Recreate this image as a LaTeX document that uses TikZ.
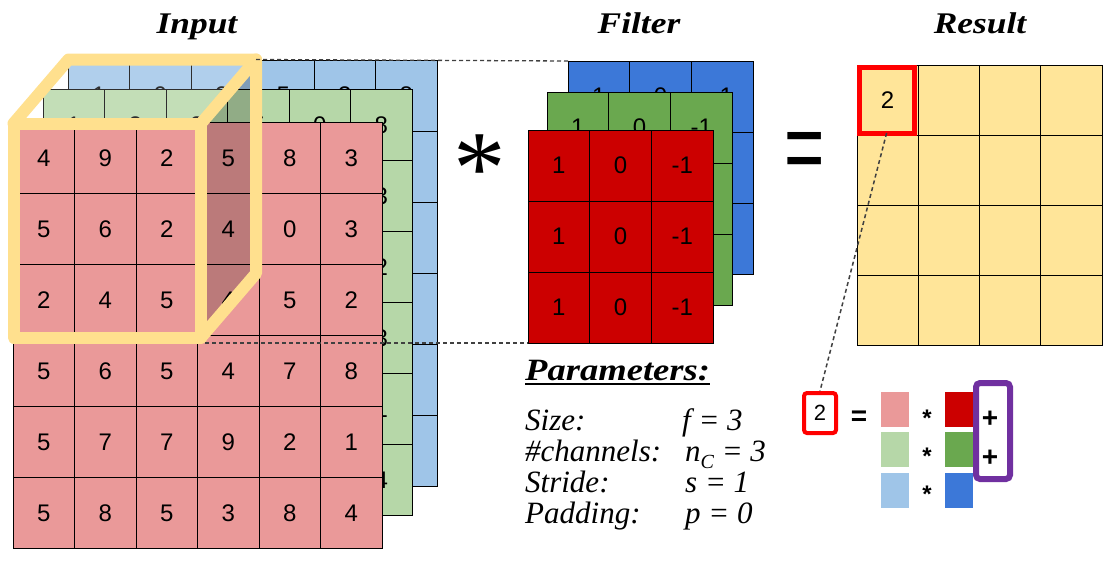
\documentclass[tikz,border=0pt]{standalone}
\usepackage{fontspec}
\usepackage{graphicx}
\setmainfont{Liberation Serif}
\newfontfamily\numfont{Liberation Sans}
\newfontfamily\titlefont{Liberation Serif}[FakeStretch=1.18]
\usetikzlibrary{calc}
\definecolor{inred}{HTML}{EA9999}
\definecolor{ingreen}{HTML}{B6D7A8}
\definecolor{inblue}{HTML}{9FC5E8}
\definecolor{fred}{HTML}{CC0000}
\definecolor{fgreen}{HTML}{6AA84F}
\definecolor{fblue}{HTML}{3C78D8}
\definecolor{resyel}{HTML}{FFE599}
\definecolor{cubey}{HTML}{FFE08E}
\definecolor{purp}{HTML}{7030A0}
\definecolor{boxred}{HTML}{FF0000}
\begin{document}
\begin{tikzpicture}[x=1pt,y=-1pt]
\tikzset{
  gcell/.style={draw=black, line width=1pt, inner sep=0pt, outer sep=0pt, anchor=north west,
    font=\numfont\fontsize{24}{24}\selectfont},
  incell/.style={gcell, minimum width=61.5pt, minimum height=71pt},
  fcell/.style={gcell, minimum width=61.7pt, minimum height=71pt},
  rcell/.style={gcell, minimum width=61.25pt, minimum height=70pt, fill=resyel},
  titletxt/.style={anchor=base, font=\titlefont\bfseries\itshape\fontsize{30}{30}\selectfont},
  paramtxt/.style={anchor=base west, font=\itshape\fontsize{31}{31}\selectfont},
  dashline/.style={draw=black!75, line width=1.3pt, dash pattern=on 4pt off 3pt},
  cubeline/.style={draw=cubey, line width=12pt, line join=round, line cap=round},
  swatch/.style={inner sep=0pt, minimum width=28pt, minimum height=35pt},
  smallop/.style={anchor=base, font=\numfont\bfseries\fontsize{24}{24}\selectfont},
}
\useasboundingbox (0,0) rectangle (1112,565);
\fill[white] (0,0) rectangle (1112,565);

% titles
\node[titletxt] (tin) at (197,33) {Input};
\node[titletxt] (tfi) at (639,33) {Filter};
\node[titletxt] (tre) at (980,33) {Result};

% input: blue layer
\foreach \row [count=\j from 0] in {{1,0,2,5,3,8},{5,6,2,4,0,3},{2,4,5,4,5,2},{5,6,5,4,7,8},{5,7,7,9,2,1},{5,8,5,3,8,4}}{
  \foreach \v [count=\i from 0] in \row {
    \node[incell, fill=inblue] (ib-\j-\i) at (68+\i*61.5, 60+\j*71) {\v};
  }}
% input: green layer
\foreach \row [count=\j from 0] in {{1,2,2,5,0,8},{5,6,2,4,0,3},{2,4,5,4,5,2},{5,6,5,4,7,3},{5,7,7,9,2,1},{5,8,5,3,8,4}}{
  \foreach \v [count=\i from 0] in \row {
    \node[incell, fill=ingreen] (ig-\j-\i) at (43+\i*61.5, 89.5+\j*71) {\v};
  }}
% input: red layer
\foreach \row [count=\j from 0] in {{4,9,2,5,8,3},{5,6,2,4,0,3},{2,4,5,4,5,2},{5,6,5,4,7,8},{5,7,7,9,2,1},{5,8,5,3,8,4}}{
  \foreach \v [count=\i from 0] in \row {
    \node[incell, fill=inred] (ir-\j-\i) at (13+\i*61.5, 122.5+\j*71) {\v};
  }}

% cube
\coordinate (cFTL) at (13.5,123.5);
\coordinate (cFTR) at (201,123.5);
\coordinate (cFBR) at (201,337.5);
\coordinate (cFBL) at (13.5,337.5);
\coordinate (cBTL) at (68.5,59.5);
\coordinate (cBTR) at (256,59.5);
\coordinate (cBBR) at (256,273.5);
\fill[white, opacity=0.18] (cFTL) -- (cBTL) -- (cBTR) -- (cFTR) -- cycle;
\fill[black, opacity=0.2] (cFTR) -- (cBTR) -- (cBBR) -- (cFBR) -- cycle;
\draw[cubeline] (cFTL) -- (cFTR) -- (cFBR) -- (cFBL) -- cycle;
\draw[cubeline] (cFTL) -- (cBTL) -- (cBTR) -- (cBBR) -- (cFBR);
\draw[cubeline] (cFTR) -- (cBTR);

% filter
\foreach \j in {0,1,2}{
  \foreach \v [count=\i from 0] in {1,0,-1}{
    \node[fcell, fill=fblue] (fb-\j-\i) at (568+\i*61.7, 61+\j*71) {\v};
  }}
\foreach \j in {0,1,2}{
  \foreach \v [count=\i from 0] in {1,0,-1}{
    \node[fcell, fill=fgreen] (fg-\j-\i) at (547+\i*61.7, 92+\j*71) {\v};
  }}
\foreach \j in {0,1,2}{
  \foreach \v [count=\i from 0] in {1,0,-1}{
    \node[fcell, fill=fred] (fr-\j-\i) at (528+\i*61.7, 130+\j*71) {\v};
  }}

% dashed guide lines
\coordinate (cDash) at (205,343);
\draw[dashline] (cBTR) -- (fb-0-0.north west);
\draw[dashline] (cDash) -- (fr-2-0.south west);

% operators
\node[anchor=base, font=\fontsize{105}{105}\selectfont] (star) at (480,203) {*};
\node[anchor=base, font=\numfont\fontsize{100}{100}\selectfont] (eqbig) at (805,181) {\scalebox{0.69}[1]{=}};

% result
\foreach \j in {0,1,2,3}{
  \foreach \i in {0,1,2,3}{
    \node[rcell] (rs-\j-\i) at (857+\i*61.25, 65+\j*70) {};
  }}
\node[font=\numfont\fontsize{24}{24}\selectfont] (rv) at (rs-0-0) {2};
\draw[draw=boxred, line width=5pt] (859.5,67.5) rectangle (914.5,133.5);

% parameters
\node[anchor=base west, font=\titlefont\bfseries\itshape\fontsize{31}{31}\selectfont, inner sep=0pt] (ptitle) at (525,380) {Parameters:};
\draw[line width=2.2pt] ($(ptitle.base west)+(0,4)$) -- ($(ptitle.base east)+(0,4)$);
\node[paramtxt, inner sep=0pt] (pl1) at (525,430) {Size:};
\node[paramtxt, inner sep=0pt] (pl2) at (525,461) {\#channels:};
\node[paramtxt, inner sep=0pt] (pl3) at (525,492) {Stride:};
\node[paramtxt, inner sep=0pt] (pl4) at (525,523) {Padding:};
\node[paramtxt, inner sep=0pt] (pv1) at (682,430) {f = 3};
\node[paramtxt, inner sep=0pt] (pv2) at (685,461) {n\raisebox{-0.25em}{\fontsize{20}{20}\selectfont C} = 3};
\node[paramtxt, inner sep=0pt] (pv3) at (685,492) {s = 1};
\node[paramtxt, inner sep=0pt] (pv4) at (685,523) {p = 0};

% small formula
\node[draw=boxred, fill=white, line width=4pt, rounded corners=3pt, minimum width=32pt, minimum height=40pt, inner sep=0pt,
  font=\numfont\fontsize{22}{22}\selectfont] (two) at (820,413) {2};
\draw[dashline, line width=1.5pt] (rs-0-0.south) ++(-1,-2) coordinate (rsd) -- (two.north);
\node[smallop, font=\numfont\bfseries\fontsize{28}{28}\selectfont] (seq) at (859,425) {=};
\node[swatch, fill=inred]   (sw1) at (895,409.5) {};
\node[swatch, fill=ingreen] (sw2) at (895,449.5) {};
\node[swatch, fill=inblue]  (sw3) at (895,490) {};
\node[swatch, fill=fred]    (sd1) at (958.5,409.5) {};
\node[swatch, fill=fgreen]  (sd2) at (958.5,449.5) {};
\node[swatch, fill=fblue]   (sd3) at (958.5,490) {};
\node[smallop] (st1) at (927,426) {*};
\node[smallop] (st2) at (927,464) {*};
\node[smallop] (st3) at (927,502) {*};
\node[anchor=base, font=\numfont\bfseries\fontsize{28}{28}\selectfont] (pl1p) at (990,427) {+};
\node[anchor=base, font=\numfont\bfseries\fontsize{28}{28}\selectfont] (pl2p) at (990,466) {+};
\draw[draw=purp, line width=6pt, rounded corners=4pt] (976,383) rectangle (1010,479);
\end{tikzpicture}
\end{document}
